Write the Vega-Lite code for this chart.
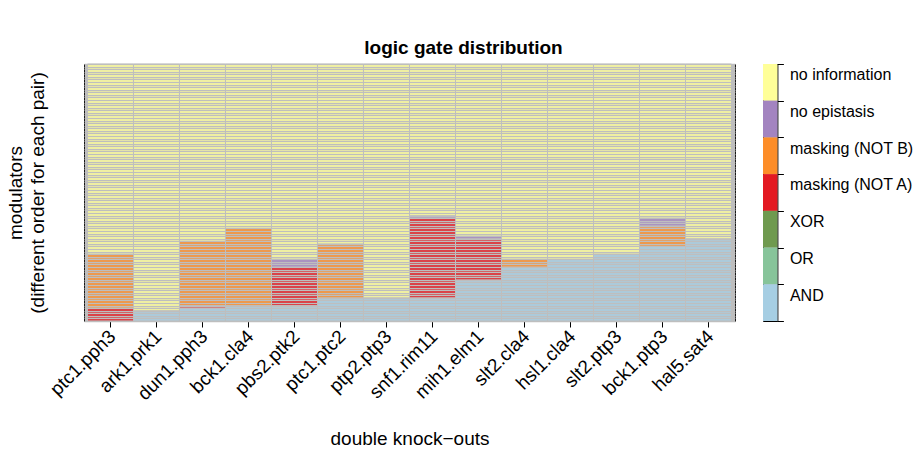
{
  "$schema": "https://vega.github.io/schema/vega-lite/v6.json",
  "padding": {"left": 5, "top": 38, "right": 0, "bottom": 0},
  "title": {"text": "logic gate distribution", "fontSize": 19, "fontWeight": "bold", "anchor": "middle", "offset": -2, "dx": 4, "color": "#000000"},
  "spacing": 26,
  "datasets": {
    "cells": [
      {"pair": "ptc1.pph3", "gate": "masking (NOT A)", "count": 5},
      {"pair": "ptc1.pph3", "gate": "masking (NOT B)", "count": 21},
      {"pair": "ptc1.pph3", "gate": "no information", "count": 74},
      {"pair": "ark1.prk1", "gate": "AND", "count": 4},
      {"pair": "ark1.prk1", "gate": "no information", "count": 96},
      {"pair": "dun1.pph3", "gate": "AND", "count": 5},
      {"pair": "dun1.pph3", "gate": "masking (NOT A)", "count": 1},
      {"pair": "dun1.pph3", "gate": "masking (NOT B)", "count": 25},
      {"pair": "dun1.pph3", "gate": "no information", "count": 69},
      {"pair": "bck1.cla4", "gate": "AND", "count": 6},
      {"pair": "bck1.cla4", "gate": "masking (NOT B)", "count": 30},
      {"pair": "bck1.cla4", "gate": "no information", "count": 64},
      {"pair": "pbs2.ptk2", "gate": "AND", "count": 6},
      {"pair": "pbs2.ptk2", "gate": "masking (NOT A)", "count": 15},
      {"pair": "pbs2.ptk2", "gate": "no epistasis", "count": 3},
      {"pair": "pbs2.ptk2", "gate": "no information", "count": 76},
      {"pair": "ptc1.ptc2", "gate": "AND", "count": 9},
      {"pair": "ptc1.ptc2", "gate": "masking (NOT B)", "count": 21},
      {"pair": "ptc1.ptc2", "gate": "no information", "count": 70},
      {"pair": "ptp2.ptp3", "gate": "AND", "count": 9},
      {"pair": "ptp2.ptp3", "gate": "no information", "count": 91},
      {"pair": "snf1.rim11", "gate": "AND", "count": 9},
      {"pair": "snf1.rim11", "gate": "masking (NOT A)", "count": 31},
      {"pair": "snf1.rim11", "gate": "no epistasis", "count": 1},
      {"pair": "snf1.rim11", "gate": "no information", "count": 59},
      {"pair": "mih1.elm1", "gate": "AND", "count": 16},
      {"pair": "mih1.elm1", "gate": "masking (NOT A)", "count": 16},
      {"pair": "mih1.elm1", "gate": "no epistasis", "count": 1},
      {"pair": "mih1.elm1", "gate": "no information", "count": 67},
      {"pair": "slt2.cla4", "gate": "AND", "count": 21},
      {"pair": "slt2.cla4", "gate": "masking (NOT B)", "count": 3},
      {"pair": "slt2.cla4", "gate": "no information", "count": 76},
      {"pair": "hsl1.cla4", "gate": "AND", "count": 24},
      {"pair": "hsl1.cla4", "gate": "no information", "count": 76},
      {"pair": "slt2.ptp3", "gate": "AND", "count": 26},
      {"pair": "slt2.ptp3", "gate": "no information", "count": 74},
      {"pair": "bck1.ptp3", "gate": "AND", "count": 29},
      {"pair": "bck1.ptp3", "gate": "masking (NOT B)", "count": 8},
      {"pair": "bck1.ptp3", "gate": "no epistasis", "count": 3},
      {"pair": "bck1.ptp3", "gate": "no information", "count": 60},
      {"pair": "hal5.sat4", "gate": "AND", "count": 32},
      {"pair": "hal5.sat4", "gate": "no information", "count": 68}
    ],
    "gates": [
      {"gate": "no information"},
      {"gate": "no epistasis"},
      {"gate": "masking (NOT B)"},
      {"gate": "masking (NOT A)"},
      {"gate": "XOR"},
      {"gate": "OR"},
      {"gate": "AND"}
    ]
  },
  "hconcat": [
    {
      "data": {"name": "cells"},
      "width": 651,
      "height": 257,
      "mark": {"type": "bar", "stroke": "#BEBEBE", "strokeWidth": 1},
      "encoding": {
        "x": {
          "field": "pair", "type": "nominal", "sort": null,
          "scale": {"paddingInner": 0, "paddingOuter": 0.076},
          "axis": {"title": "double knock−outs", "labelAngle": -45, "labelAlign": "right", "labelBaseline": "middle", "labelFontSize": 19, "labelPadding": 6, "labelOffset": 2, "tickSize": 6, "tickColor": "#000000", "domain": false, "titleFontSize": 19, "titleFontWeight": "normal", "titlePadding": 26}
        },
        "y": {
          "field": "count", "type": "quantitative", "stack": "zero",
          "scale": {"domain": [0, 100], "nice": false},
          "axis": {"title": ["modulators", "(different order for each pair)"], "labels": false, "ticks": false, "domain": false, "grid": true, "tickCount": 100, "gridColor": "#BEBEBE", "gridWidth": 1.5, "gridOpacity": 1, "zindex": 1, "minExtent": 0, "titleFontSize": 19, "titleFontWeight": "normal", "titleLineHeight": 22, "titlePadding": 37}
        },
        "color": {
          "field": "gate", "type": "nominal",
          "scale": {
            "domain": ["no information", "no epistasis", "masking (NOT B)", "masking (NOT A)", "XOR", "OR", "AND"],
            "range": ["#FFFF99", "#A384C0", "#FD8D28", "#E31A22", "#6F9A4F", "#87C49A", "#A6CEE3"]
          },
          "legend": null
        },
        "order": {"field": "gate", "sort": "ascending"}
      }
    },
    {
      "data": {"name": "gates"},
      "width": 14.4,
      "height": 257,
      "mark": {"type": "rect"},
      "encoding": {
        "y": {
          "field": "gate", "type": "nominal",
          "sort": ["no information", "no epistasis", "masking (NOT B)", "masking (NOT A)", "XOR", "OR", "AND"],
          "scale": {"paddingInner": 0, "paddingOuter": 0},
          "axis": {"orient": "right", "title": null, "tickBand": "extent", "tickSize": 6, "tickColor": "#000000", "labelFontSize": 16, "labelPadding": 6, "labelOffset": -7.6, "labelLimit": 0, "domain": false, "grid": false}
        },
        "color": {
          "field": "gate", "type": "nominal",
          "scale": {
            "domain": ["no information", "no epistasis", "masking (NOT B)", "masking (NOT A)", "XOR", "OR", "AND"],
            "range": ["#FFFF99", "#A384C0", "#FD8D28", "#E31A22", "#6F9A4F", "#87C49A", "#A6CEE3"]
          },
          "legend": null
        }
      }
    }
  ],
  "config": {
    "font": "Liberation Sans",
    "view": {"stroke": "#000000", "strokeWidth": 1, "fill": "#BEBEBE"},
    "axis": {"labelColor": "#000000", "titleColor": "#000000"}
  }
}
